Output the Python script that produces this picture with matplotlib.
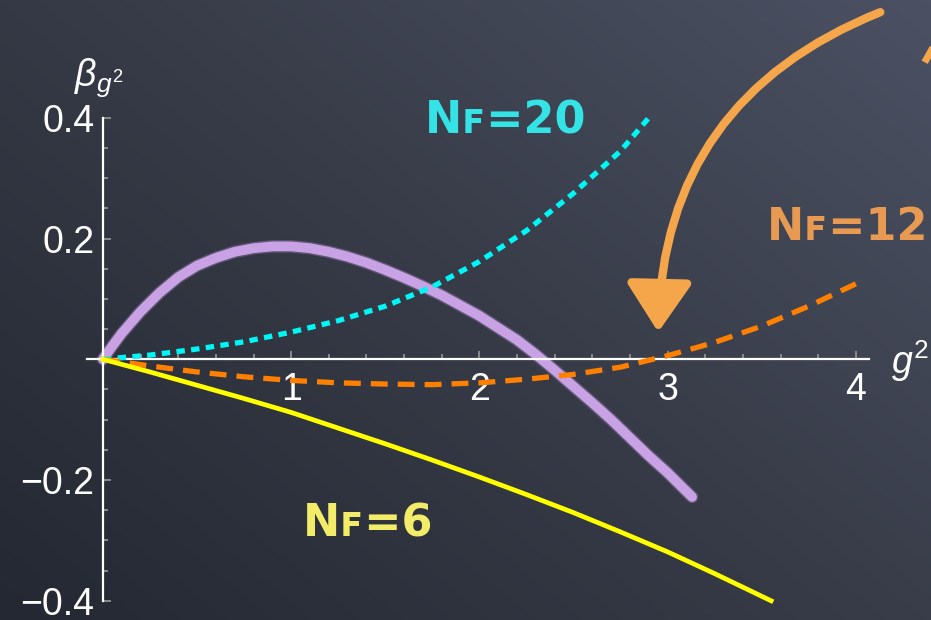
import numpy as np
import matplotlib
matplotlib.use("Agg")
import matplotlib.pyplot as plt
from matplotlib.colors import LinearSegmentedColormap
from matplotlib.ticker import MultipleLocator, FixedLocator

plt.rcParams['font.family'] = ['Liberation Sans', 'DejaVu Sans']
plt.rcParams['mathtext.fontset'] = 'custom'
plt.rcParams['mathtext.rm'] = 'Liberation Sans'
plt.rcParams['mathtext.it'] = 'Liberation Sans:italic'

# two-loop beta functions
nf20_x = [0, 0.25, 0.5, 0.75, 1.0, 1.25, 1.5, 1.75, 2.0, 2.25, 2.5, 2.75, 2.9]
nf20_y = [0, 0.007, 0.017, 0.029, 0.045, 0.064, 0.088, 0.120, 0.162, 0.213, 0.275, 0.345, 0.400]

nf12_x = [0, 0.25, 0.5, 0.75, 1.0, 1.25, 1.5, 1.75, 2.0, 2.25, 2.5, 2.75, 3.0, 3.25, 3.5, 3.75, 4.0]
nf12_y = [0, -0.011, -0.021, -0.029, -0.035, -0.039, -0.041, -0.042, -0.039, -0.033,
          -0.025, -0.013, 0.006, 0.028, 0.055, 0.088, 0.125]

nf6_x = [0, 0.25, 0.5, 0.75, 1.0, 1.25, 1.5, 1.75, 2.0, 2.25, 2.5, 2.75, 3.0, 3.25, 3.55]
nf6_y = [0, -0.021, -0.043, -0.065, -0.088, -0.114, -0.140, -0.167, -0.195, -0.224,
         -0.254, -0.286, -0.319, -0.355, -0.400]

# hand-drawn chalk curve
chalk_x = [0, 0.05, 0.1, 0.2, 0.3, 0.4, 0.5, 0.6, 0.7, 0.8, 0.9, 1.0, 1.1, 1.2, 1.3, 1.4, 1.5,
           1.6, 1.7, 1.8, 1.9, 2.0, 2.1, 2.2, 2.3, 2.4, 2.5, 2.6, 2.7, 2.8, 2.9, 3.0, 3.13]
chalk_y = [0, 0.022, 0.043, 0.079, 0.110, 0.136, 0.155, 0.168, 0.178, 0.184, 0.187, 0.187,
           0.184, 0.178, 0.170, 0.160, 0.148, 0.135, 0.121, 0.106, 0.089, 0.072, 0.052,
           0.032, 0.008, -0.018, -0.045, -0.072, -0.100, -0.130, -0.160, -0.188, -0.228]

x_ticks = [1, 2, 3, 4]
y_ticks = [-0.4, -0.2, 0.2, 0.4]

fig = plt.figure(figsize=(9.31, 6.2), dpi=100)

# chalkboard backdrop
bg = fig.add_axes([0, 0, 1, 1], zorder=-1)
bg.axis('off')
yy, xx = np.mgrid[0:1:200j, 0:1:300j]
board = LinearSegmentedColormap.from_list('board', ['#242832', '#373b47', '#4b5163'])
bg.imshow(0.55 * xx + 0.45 * yy, cmap=board, origin='lower', aspect='auto',
          extent=[0, 1, 0, 1], vmin=0, vmax=1)

ax = fig.add_axes([0.0934, 0.031, 0.840, 0.779])
ax.set_facecolor('none')
ax.set_xlim(-0.085, 4.07)
ax.set_ylim(-0.4, 0.4)

for side in ['top', 'right']:
    ax.spines[side].set_visible(False)
ax.spines['left'].set_position(('data', 0))
ax.spines['bottom'].set_position(('data', 0))
for side in ['left', 'bottom']:
    ax.spines[side].set_color('white')
    ax.spines[side].set_linewidth(1.6)

ax.xaxis.set_major_locator(FixedLocator(x_ticks))
ax.xaxis.set_minor_locator(MultipleLocator(0.2))
ax.yaxis.set_major_locator(FixedLocator(y_ticks))
ax.yaxis.set_minor_locator(MultipleLocator(0.05))
ax.tick_params(which='both', direction='in', color='#8a8a8a', width=1.4,
               labelcolor='white', labelsize=27)
ax.tick_params(which='major', length=6)
ax.tick_params(which='minor', length=3.6)
ax.tick_params(axis='x', which='major', pad=9)
ax.tick_params(axis='y', which='major', pad=6)

# curves
ax.plot(chalk_x, chalk_y, color='#b48fd2', lw=9, alpha=0.35, solid_capstyle='round',
        solid_joinstyle='round', zorder=1.9, clip_on=False)
ax.plot(chalk_x, chalk_y, color='#c9a2e6', lw=7, solid_capstyle='round',
        solid_joinstyle='round', zorder=2, clip_on=False)
ax.plot(nf20_x, nf20_y, color='#00f5f5', lw=3.8, linestyle=(0, (1.6, 1.2)),
        zorder=3, clip_on=False)
ax.plot(nf12_x, nf12_y, color='#ff8000', lw=3.8, linestyle=(0, (3.2, 1.9)),
        zorder=3, clip_on=False)
ax.plot(nf6_x, nf6_y, color='#ffff00', lw=3.4, zorder=3, clip_on=False)

# labels
label_kw = dict(fontsize=32, fontweight='bold', family=['DejaVu Sans'], clip_on=False)
ax.text(2.14, 0.395, 'N\ua730=20', color='#33e3e6', ha='center', va='center', **label_kw)
ax.text(3.53, 0.219, 'N\ua730=12', color='#e89a52', ha='left', va='center', **label_kw)
ax.text(1.41, -0.272, 'N\ua730=6', color='#f3ec68', ha='center', va='center', **label_kw)

ax.text(-0.02, 0.466, r'$\beta_{g^2}$', color='white', fontsize=27,
        ha='center', va='center', clip_on=False)
ax.text(4.29, -0.003, r'$g^2$', color='white', fontsize=27,
        ha='center', va='center', clip_on=False)

# chalk arrow pointing at the N_F=12 zero
ax.annotate('', xy=(2.95, 0.045), xytext=(4.13, 0.575), annotation_clip=False,
            arrowprops=dict(arrowstyle='-|>,head_length=1.5,head_width=1.0',
                            connectionstyle='arc3,rad=0.33', color='#f5a54a',
                            lw=6, shrinkA=0, shrinkB=0, mutation_scale=20,
                            clip_on=False))
ax.plot([4.375, 4.40], [0.497, 0.511], color='#f5a54a', lw=5, clip_on=False)

fig.savefig('out.png', dpi=100)
